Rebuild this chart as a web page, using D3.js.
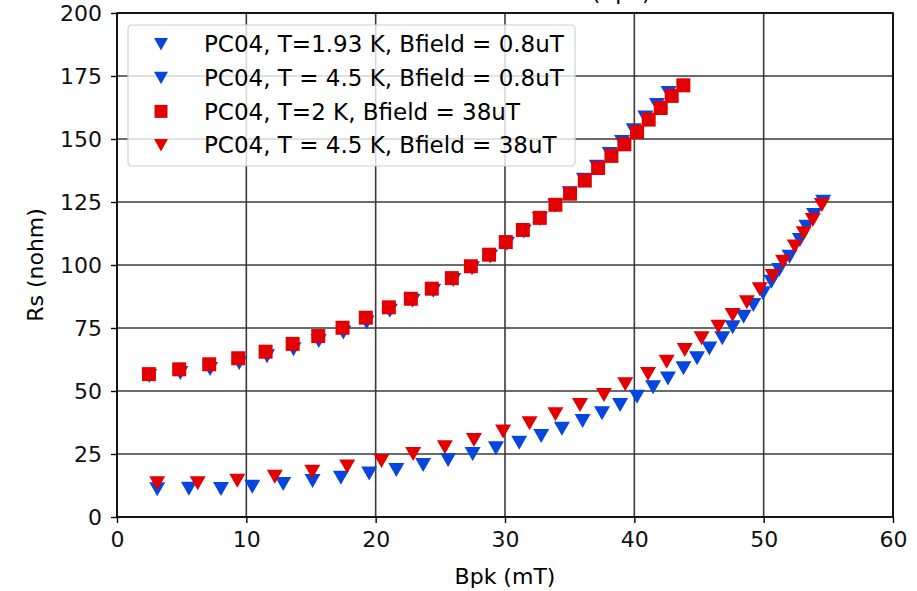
<!DOCTYPE html>
<html>
<head>
<meta charset="utf-8">
<script src="https://cdn.jsdelivr.net/npm/d3@7"></script>
<style>
  body { margin: 0; background: #fff; }
  svg { display: block; font-family: "DejaVu Sans", sans-serif; }
</style>
</head>
<body>
<div id="chart"></div>
<script>
// upper curves
const sqX = [2.47, 4.81, 7.13, 9.37, 11.49, 13.58, 15.56, 17.44, 19.24, 21.02, 22.72, 24.34, 25.89, 27.36, 28.77,
  30.06, 31.38, 32.69, 33.90, 35.03, 36.17, 37.20, 38.23, 39.23, 40.21, 41.11, 42.04, 42.89, 43.79];
const sqY = [56.7, 58.6, 60.6, 63.0, 65.6, 68.7, 71.8, 75.1, 79.1, 83.2, 86.6, 90.6, 94.8, 99.5, 104.1,
  109.1, 113.9, 118.7, 123.9, 128.3, 133.5, 138.5, 143.3, 147.9, 152.8, 157.7, 162.3, 167.1, 171.3];
const blueLowTX = [2.5, 4.9, 7.2, 9.45, 11.6, 13.65, 15.6, 17.5, 19.3, 21.1, 22.85, 24.45, 26.0, 27.45, 28.85,
  30.15, 31.45, 32.7, 33.9, 35.0, 36.1, 37.1, 38.1, 39.05, 39.95, 40.85, 41.75, 42.65];
const blueLowTY = [56.0, 57.1, 58.7, 61.1, 63.8, 66.6, 69.8, 73.2, 77.2, 81.8, 85.8, 89.8, 94.0, 98.7, 103.4,
  108.4, 113.3, 118.3, 123.5, 128.5, 133.8, 139.0, 144.0, 148.8, 153.5, 158.5, 163.5, 168.3];

// lower curves (T = 4.5 K)
const blueHighTX = [3.11, 5.56, 8.04, 10.46, 12.85, 15.12, 17.31, 19.5, 21.6, 23.67, 25.6, 27.5, 29.3, 31.1, 32.8,
  34.4, 36.0, 37.5, 38.9, 40.2, 41.45, 42.6, 43.8, 44.85, 45.8, 46.8, 47.6, 48.45, 49.2, 49.95, 50.6, 51.2,
  52.0, 52.8, 53.3, 53.9, 54.6];
const blueHighTY = [11.0, 11.2, 11.1, 12.0, 13.1, 14.3, 15.6, 17.3, 18.7, 20.6, 22.6, 25.0, 27.3, 29.5, 32.1,
  35.0, 38.1, 41.2, 44.4, 47.7, 51.5, 55.0, 59.0, 63.0, 66.9, 70.9, 75.3, 79.5, 84.1, 88.8, 93.4, 98.0,
  103.3, 109.9, 115.2, 119.8, 125.1];
const redHighTX = [3.11, 6.24, 9.3, 12.2, 15.1, 17.8, 20.45, 22.9, 25.35, 27.6, 29.85, 31.9, 33.9, 35.8, 37.65,
  39.3, 41.06, 42.5, 43.9, 45.2, 46.5, 47.6, 48.7, 49.7, 50.7, 51.5, 52.4, 53.1, 53.8, 54.5];
const redHighTY = [13.4, 13.4, 14.4, 16.0, 18.0, 20.0, 22.2, 25.0, 27.7, 30.6, 33.9, 37.2, 40.8, 44.4, 48.4,
  52.7, 56.7, 61.6, 66.3, 70.9, 75.5, 80.2, 85.2, 90.4, 95.6, 101.3, 107.3, 112.6, 117.9, 123.8];

const xTicks = [0, 10, 20, 30, 40, 50, 60];
const yTicks = [0, 25, 50, 75, 100, 125, 150, 175, 200];

const blue = "#0646de";
const red = "#e20000";

const series = [
  { name: "PC04, T=1.93 K, Bfield = 0.8uT", xs: blueLowTX, ys: blueLowTY, color: blue, shape: "tri" },
  { name: "PC04, T = 4.5 K, Bfield = 0.8uT", xs: blueHighTX, ys: blueHighTY, color: blue, shape: "tri" },
  { name: "PC04, T=2 K, Bfield = 38uT", xs: sqX, ys: sqY, color: red, shape: "sq" },
  { name: "PC04, T = 4.5 K, Bfield = 38uT", xs: redHighTX, ys: redHighTY, color: red, shape: "tri" }
];

const width = 917;
const height = 591;
const margin = { top: 13, right: 24, bottom: 74, left: 117 };
const fontSize = 22;

const svg = d3.select("#chart").append("svg")
  .attr("width", width)
  .attr("height", height);

const x = d3.scaleLinear().domain([0, 60]).range([margin.left, width - margin.right]);
const y = d3.scaleLinear().domain([0, 200]).range([height - margin.bottom, margin.top]);

// title, mostly cut off at the top edge (as in the original)
svg.append("text")
  .attr("x", (x(0) + x(60)) / 2 - 6)
  .attr("y", -0.5)
  .attr("text-anchor", "middle")
  .attr("font-size", fontSize)
  .attr("fill", "#000")
  .text("Surface resistance Rs (Bpk)");

// grid
svg.append("g")
  .selectAll("line")
  .data(xTicks)
  .join("line")
  .attr("x1", d => x(d)).attr("x2", d => x(d))
  .attr("y1", y(0)).attr("y2", y(200))
  .attr("stroke", "#3a3a3a")
  .attr("stroke-width", 1.6);

svg.append("g")
  .selectAll("line")
  .data(yTicks)
  .join("line")
  .attr("x1", x(0)).attr("x2", x(60))
  .attr("y1", d => y(d)).attr("y2", d => y(d))
  .attr("stroke", "#3a3a3a")
  .attr("stroke-width", 1.6);

// axes
const xAxis = svg.append("g")
  .attr("transform", `translate(0,${y(0)})`)
  .call(d3.axisBottom(x).tickValues(xTicks).tickSize(6).tickPadding(8).tickFormat(d3.format("d")));
const yAxis = svg.append("g")
  .attr("transform", `translate(${x(0)},0)`)
  .call(d3.axisLeft(y).tickValues(yTicks).tickSize(6).tickPadding(9).tickFormat(d3.format("d")));

[xAxis, yAxis].forEach(function(g) {
  g.select(".domain").remove();
  g.selectAll("line").attr("stroke", "#000").attr("stroke-width", 1.4);
  g.selectAll("text")
    .attr("font-size", fontSize)
    .attr("font-family", "'DejaVu Sans', sans-serif")
    .attr("fill", "#111");
});

// frame
svg.append("rect")
  .attr("x", x(0)).attr("y", y(200))
  .attr("width", x(60) - x(0)).attr("height", y(0) - y(200))
  .attr("fill", "none")
  .attr("stroke", "#000")
  .attr("stroke-width", 1.6);

// axis labels
svg.append("text")
  .attr("x", (x(0) + x(60)) / 2)
  .attr("y", 584)
  .attr("text-anchor", "middle")
  .attr("font-size", fontSize)
  .text("Bpk (mT)");

svg.append("text")
  .attr("transform", `translate(43,${(y(0) + y(200)) / 2}) rotate(-90)`)
  .attr("text-anchor", "middle")
  .attr("font-size", fontSize)
  .text("Rs (nohm)");

function markerPath(shape) {
  if (shape === "sq") {
    return "M-7,-7H7V7H-7Z";
  }
  return "M0,7L-8,-7L8,-7Z";
}

// markers
const plot = svg.append("g");
series.forEach(function(s) {
  const pts = s.xs.map((v, i) => [v, s.ys[i]]);
  plot.append("g")
    .selectAll("path")
    .data(pts)
    .join("path")
    .attr("transform", d => "translate(" + x(d[0]) + "," + y(d[1]) + ")")
    .attr("d", markerPath(s.shape))
    .attr("fill", s.color);
});

// legend
const legend = svg.append("g").attr("transform", "translate(128,25)");
legend.append("rect")
  .attr("width", 447)
  .attr("height", 141)
  .attr("rx", 4)
  .attr("fill", "#fff")
  .attr("fill-opacity", 0.8)
  .attr("stroke", "#d0d0d0")
  .attr("stroke-width", 1.2);

const item = legend.selectAll(".item")
  .data(series)
  .join("g")
  .attr("class", "item")
  .attr("transform", (d, i) => "translate(0," + (19 + i * 33.7) + ")");

item.append("path")
  .attr("transform", "translate(33,0)")
  .attr("d", d => d.shape === "sq" ? "M-6.5,-6.5H6.5V6.5H-6.5Z" : "M0,6.5L-7,-6L7,-6Z")
  .attr("fill", d => d.color);

item.append("text")
  .attr("x", 76)
  .attr("dy", "0.36em")
  .attr("font-size", 23)
  .attr("fill", "#000")
  .text(d => d.name);
</script>
</body>
</html>
